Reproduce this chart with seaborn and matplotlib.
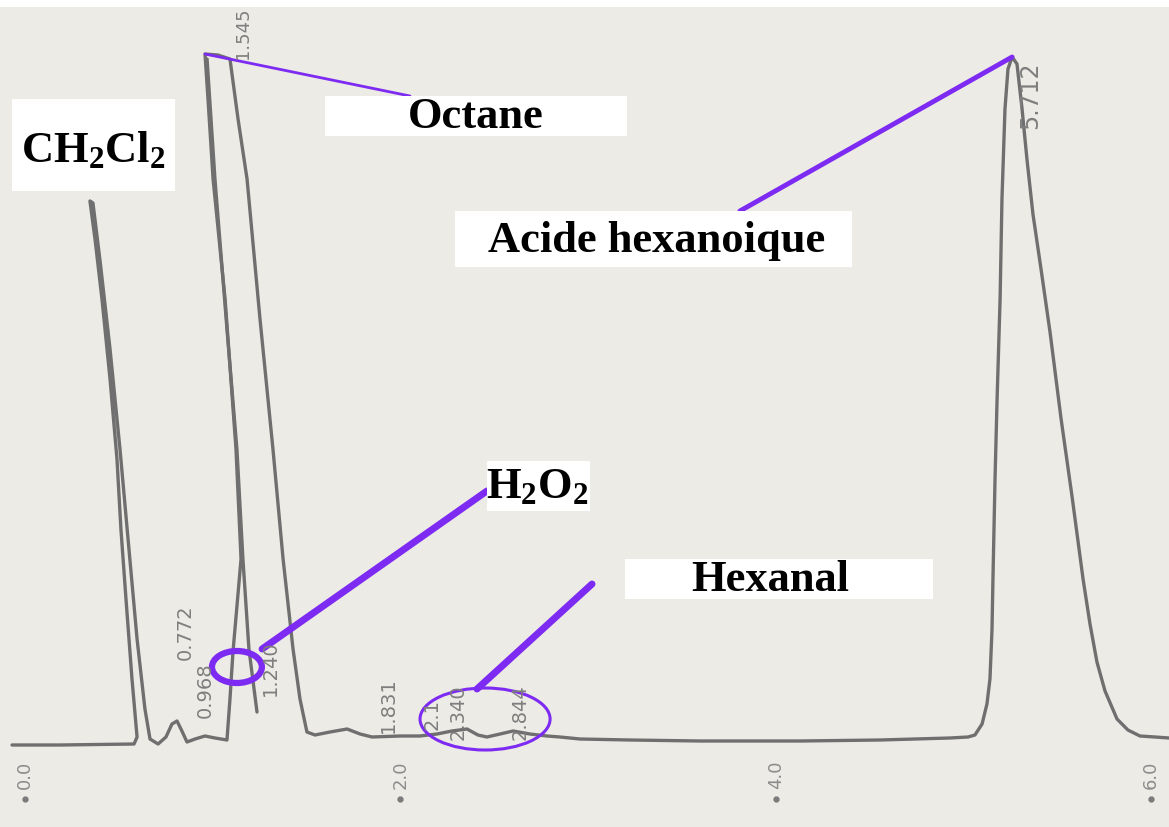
import matplotlib
matplotlib.use("Agg")
import matplotlib.pyplot as plt
from matplotlib.patches import Rectangle, Ellipse
import seaborn as sns
import pandas as pd

# ---------------- data ----------------
# retention time (min) and detector response (arbitrary units)
trace_time = [-0.069, 0.186, 0.581, 0.597, 0.570, 0.538, 0.511, 0.490, 0.453, 0.410,
              0.373, 0.346, 0.362, 0.400, 0.453, 0.506, 0.549, 0.597, 0.639, 0.666,
              0.709, 0.751, 0.783, 0.810, 0.836, 0.863, 0.906, 0.959, 1.012, 1.076,
              1.092, 1.108, 1.151, 1.124, 1.066, 1.002, 0.975, 0.959, 1.028, 1.092,
              1.135, 1.183, 1.252, 1.321, 1.375, 1.428, 1.465, 1.502, 1.545, 1.625,
              1.716, 1.785, 1.849, 1.998, 2.104, 2.195, 2.275, 2.355, 2.413, 2.461,
              2.531, 2.600, 2.690, 2.781, 2.850, 2.957, 3.223, 3.596, 4.129, 4.555,
              4.928, 5.024, 5.061, 5.099, 5.125, 5.141, 5.152, 5.157, 5.168, 5.179,
              5.195, 5.205, 5.221, 5.237, 5.259, 5.285, 5.312, 5.338, 5.370, 5.413,
              5.461, 5.520, 5.578, 5.637, 5.674, 5.711, 5.754, 5.818, 5.876, 5.940,
              6.020, 6.095]
trace_signal = [0, 0, 1, 8, 66, 146, 216, 286, 366, 446,
                506, 544, 542, 484, 396, 296, 206, 106, 36, 6,
                1, 8, 21, 24, 14, 3, 6, 9, 7, 5,
                46, 93, 186, 296, 446, 566, 646, 691, 690, 686,
                626, 566, 426, 296, 186, 96, 46, 13, 10, 13,
                16, 11, 8, 9, 9, 11, 14, 16, 10, 8,
                11, 14, 11, 9, 8, 6, 5, 4, 4, 5,
                7, 8, 10, 21, 41, 66, 116, 166, 266, 346,
                446, 546, 636, 676, 688, 681, 636, 586, 531, 476,
                413, 326, 249, 166, 121, 83, 54, 26, 15, 9,
                8, 7]

# second pen stroke inside the octane peak
inner_time = [0.970, 1.012, 1.076, 1.129, 1.161, 1.193, 1.236]
inner_signal = [686, 566, 416, 296, 186, 96, 33]

axis_ticks = [0.0, 2.0, 4.0, 6.0]
axis_ticklabels = ["0.0", "2.0", "4.0", "6.0"]

rt_labels = ["0.772", "0.968", "1.545", "1.240", "1.831", "2.1", "2.340", "2.844", "5.712"]
rt_time = [0.852, 0.959, 1.161, 1.305, 1.934, 2.168, 2.307, 2.637, 5.354]
rt_signal = [114, 56, 713, 78, 41, 31, 34, 34, 651]

compounds = ["CH$_\\mathrm{2}$Cl$_\\mathrm{2}$", "Octane", "Acide hexanoique",
             "H$_\\mathrm{2}$O$_\\mathrm{2}$", "Hexanal"]

# ---------------- styling ----------------
sns.set_theme(style="white")
plt.rcParams["font.family"] = ["DejaVu Sans"]
plt.rcParams["mathtext.fontset"] = "custom"
plt.rcParams["mathtext.rm"] = "Liberation Serif:bold"
plt.rcParams["mathtext.bf"] = "Liberation Serif:bold"
plt.rcParams["mathtext.it"] = "Liberation Serif:bold"

paper = "#ECEBE5"
ink = "#6F6F6F"
purple = "#7D2AF2"

fig = plt.figure(figsize=(11.69, 8.28), dpi=100, facecolor=paper)
ax = fig.add_axes([0.0, 70 / 828, 1.0, 758 / 828])
ax.set_facecolor(paper)

df = pd.DataFrame({"time": trace_time, "signal": trace_signal})
sns.lineplot(data=df, x="time", y="signal", sort=False, estimator=None,
             color=ink, lw=2.4, ax=ax)
sns.lineplot(x=inner_time, y=inner_signal, sort=False, estimator=None,
             color=ink, lw=2.4, ax=ax)

ax.set_xlim(-0.1332, 6.0949)
ax.set_ylim(-12, 746)
for s in ax.spines.values():
    s.set_visible(False)
ax.set_xlabel("")
ax.set_ylabel("")
ax.set_yticks([])
ax.set_xticks(axis_ticks)
ax.set_xticklabels(axis_ticklabels, rotation=90, fontsize=13, color="#8C8C8C")
ax.tick_params(axis="x", length=0, pad=2)
ax.plot(axis_ticks, [-54] * len(axis_ticks), "o", ms=3.5, color="#7A7A7A", clip_on=False)

# retention time prints
for lab, t, s in zip(rt_labels, rt_time, rt_signal):
    fs = 17 if lab == "5.712" else (13 if lab == "1.545" else 14)
    ax.text(t, s, lab, rotation=90, fontsize=fs, color="#7E7E7E",
            ha="center", va="center", zorder=11)

# white label boxes
boxes = [(-0.069, 554, 0.868, 92), (1.598, 609, 1.609, 40), (2.291, 478, 2.115, 56),
         (2.461, 234, 0.551, 50), (3.197, 146, 1.640, 40)]
label_pos = [(0.362, 596), (2.403, 629), (3.367, 505), (2.728, 259), (3.969, 166)]

# purple pointers
ax.plot([0.959, 2.051], [691, 649], color=purple, lw=2.0, solid_capstyle="round")
ax.plot([5.259, 3.809], [688, 534], color=purple, lw=3.5, solid_capstyle="round")
ax.plot([1.263, 2.461], [96, 254], color=purple, lw=5.0, solid_capstyle="round")
ax.plot([2.408, 3.021], [56, 161], color=purple, lw=5.0, solid_capstyle="round")
ax.add_patch(Ellipse((1.129, 78), 0.266, 32, fill=False, ec=purple, lw=4.5, zorder=4))
ax.add_patch(Ellipse((2.451, 26), 0.693, 62, fill=False, ec=purple, lw=2.2, zorder=4))

for (x0, y0, w, h), (tx, ty), name in zip(boxes, label_pos, compounds):
    ax.add_patch(Rectangle((x0, y0), w, h, facecolor="white", edgecolor="none", zorder=5))
    ax.text(tx, ty, name, fontsize=32, fontweight="bold", family="Liberation Serif",
            color="black", ha="center", va="center", zorder=6)

# white scan border at the top
fig.patches.append(Rectangle((0, 1 - 8 / 828), 1, 8 / 828, transform=fig.transFigure,
                             facecolor="white", edgecolor="none", zorder=1))

fig.savefig("out.png", dpi=100, facecolor=paper)
